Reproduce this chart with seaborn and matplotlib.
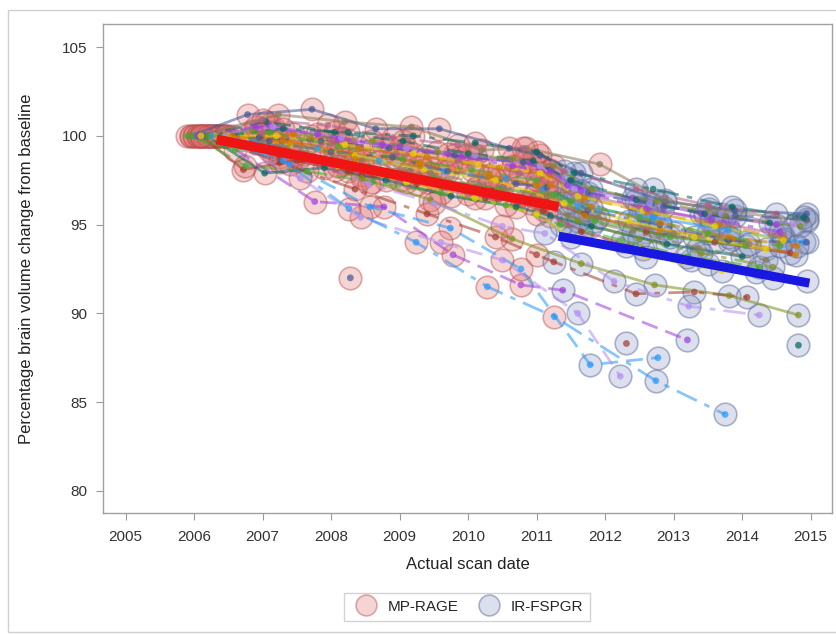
import pandas as pd
import matplotlib
matplotlib.use("Agg")
import matplotlib.pyplot as plt
import seaborn as sns
from matplotlib.patches import Rectangle
from matplotlib.lines import Line2D


# scan dates (decimal years) and % brain volume relative to baseline, one row per subject
scan_dates = [
    [2005.95, 2006.78, 2007.72, 2008.65, 2009.58, 2010.60, 2011.05, 2011.65, 2012.87, 2013.89, 2014.94],
    [2006.10, 2006.72, 2007.50, 2008.45, 2009.40, 2010.35, 2011.15, 2011.70, 2012.60, 2013.60, 2014.70],
    [2006.20, 2007.03, 2007.90, 2008.80, 2009.75, 2010.70, 2011.20, 2011.80, 2012.90, 2014.00],
    [2006.05, 2007.23, 2008.20, 2009.17, 2010.20, 2010.85, 2011.92, 2012.87, 2013.51, 2014.94],
    [2006.30, 2007.10, 2008.10, 2009.00, 2009.90, 2010.90, 2011.45, 2012.40, 2013.40, 2014.50],
    [2006.30, 2007.45, 2008.45, 2009.45, 2010.64, 2011.65, 2012.72, 2013.81, 2014.82],
    [2006.00, 2006.90, 2007.80, 2008.70, 2009.65, 2010.55, 2011.10, 2011.60, 2012.70, 2013.80, 2014.90],
    [2006.15, 2007.00, 2008.00, 2008.95, 2009.85, 2010.75, 2011.50, 2012.50, 2013.55, 2014.60],
    [2006.40, 2007.30, 2008.30, 2009.30, 2010.30, 2011.00, 2011.70, 2012.80, 2013.85, 2014.78],
    [2005.90, 2006.60, 2007.60, 2008.55, 2009.50, 2010.45, 2011.25, 2011.85, 2012.95, 2014.05],
    [2006.25, 2007.15, 2008.15, 2009.10, 2010.10, 2011.05, 2011.55, 2012.65, 2013.70, 2014.75],
    [2006.50, 2007.40, 2008.35, 2009.35, 2010.40, 2011.40, 2012.35, 2013.30, 2014.35],
    [2006.05, 2006.95, 2007.85, 2008.85, 2009.80, 2010.80, 2011.20, 2011.75, 2012.85, 2013.90, 2014.94],
    [2006.35, 2007.25, 2008.25, 2009.25, 2010.25, 2011.10, 2011.65, 2012.55, 2013.50, 2014.45],
    [2006.10, 2007.05, 2008.05, 2009.05, 2010.00, 2010.95, 2011.50, 2012.45, 2013.45, 2014.40],
    [2006.45, 2007.35, 2008.45, 2009.45, 2010.50, 2011.15, 2011.90, 2013.00, 2014.10],
    [2006.30, 2007.76, 2008.77, 2009.78, 2010.77, 2011.38, 2013.20],
    [2005.95, 2006.85, 2007.70, 2008.60, 2009.55, 2010.65, 2011.25, 2011.80, 2012.75, 2013.75, 2014.85],
    [2006.15, 2007.40, 2008.57, 2009.74, 2010.77, 2011.78, 2012.77],
    [2006.20, 2007.15, 2008.05, 2009.00, 2010.00, 2010.90, 2011.45, 2012.30, 2013.25, 2014.20],
    [2006.55, 2007.45, 2008.40, 2009.40, 2010.45, 2011.20, 2011.70, 2012.60, 2013.65, 2014.61],
    [2006.00, 2006.75, 2007.65, 2008.60, 2009.60, 2010.55, 2011.35, 2012.25, 2013.20, 2014.25],
    [2006.35, 2007.55, 2008.43, 2009.60, 2010.50, 2011.60, 2012.22],
    [2006.30, 2007.20, 2008.20, 2009.20, 2010.15, 2011.05, 2011.60, 2012.55, 2013.60, 2014.60],
    [2006.15, 2007.10, 2008.00, 2008.90, 2009.70, 2010.70, 2011.15, 2011.75, 2012.80, 2013.80, 2014.94],
    [2006.20, 2007.25, 2008.35, 2009.40, 2010.40, 2011.00, 2011.25, 2012.45, 2013.30, 2014.07],
    [2006.40, 2007.30, 2008.25, 2009.20, 2010.10, 2011.00, 2011.55, 2012.70, 2013.85, 2014.90],
    [2006.25, 2007.20, 2008.15, 2009.15, 2010.15, 2010.95, 2011.45, 2012.40, 2013.35, 2014.35],
    [2006.05, 2006.90, 2007.80, 2008.75, 2009.70, 2010.65, 2011.20, 2011.65, 2012.60, 2013.55, 2014.55],
    [2006.35, 2007.25, 2008.20, 2009.15, 2010.10, 2011.05, 2011.60, 2012.50, 2013.40, 2014.45],
    [2006.25, 2007.30, 2008.26, 2009.24, 2010.28, 2011.26, 2012.74, 2013.75],
    [2006.10, 2007.00, 2007.95, 2008.90, 2009.85, 2010.80, 2011.40, 2012.45, 2013.50, 2014.50],
    [2006.45, 2007.40, 2008.35, 2009.30, 2010.30, 2011.20, 2011.80, 2012.80, 2013.80, 2014.80],
    [2006.20, 2007.10, 2008.10, 2009.05, 2010.05, 2011.00, 2011.50, 2012.50, 2013.50, 2014.55],
    [2006.45, 2007.50, 2008.55, 2009.50, 2010.50, 2011.12, 2012.13, 2013.22, 2014.25],
    [2006.10, 2007.10, 2008.10, 2009.10, 2010.10, 2011.00, 2011.50, 2012.60, 2013.70, 2014.94],
    [2008.28],
    [2012.31],
    [2014.82],
]
pbvc = [
    [100.0, 101.2, 101.5, 100.4, 100.4, 99.3, 98.9, 97.9, 96.3, 95.8, 95.6],
    [100.0, 98.1, 98.6, 97.8, 97.4, 96.9, 96.3, 95.6, 94.6, 94.0, 93.4],
    [100.0, 97.9, 98.2, 97.5, 96.6, 96.0, 95.5, 94.9, 93.9, 93.2],
    [100.0, 101.2, 100.8, 100.5, 99.2, 99.3, 98.4, 96.4, 95.9, 95.2],
    [100.0, 100.6, 99.8, 99.4, 98.8, 98.5, 97.2, 96.5, 95.6, 95.0],
    [100.0, 98.9, 97.6, 96.4, 94.2, 92.8, 91.6, 91.0, 89.9],
    [100.0, 99.6, 99.3, 98.6, 98.0, 97.6, 97.0, 96.0, 95.4, 94.7, 94.0],
    [100.0, 100.2, 99.6, 99.0, 98.6, 97.9, 96.8, 96.0, 95.2, 94.4],
    [100.0, 99.8, 99.0, 98.5, 97.8, 97.2, 95.5, 94.7, 94.2, 93.3],
    [100.0, 99.2, 99.0, 98.3, 97.6, 97.0, 96.7, 95.2, 94.3, 93.8],
    [100.0, 100.5, 99.9, 99.3, 98.9, 98.3, 97.0, 96.2, 95.6, 95.0],
    [100.0, 99.5, 98.9, 98.1, 97.5, 96.2, 95.2, 94.3, 93.6],
    [100.0, 99.9, 99.7, 99.3, 98.9, 98.5, 98.1, 96.8, 96.0, 95.5, 95.3],
    [100.0, 98.8, 98.0, 97.3, 96.5, 95.8, 94.6, 93.6, 92.8, 92.0],
    [100.0, 100.8, 100.2, 99.7, 99.0, 98.6, 97.5, 96.4, 95.6, 95.1],
    [100.0, 99.3, 98.6, 97.9, 97.1, 96.6, 95.4, 94.5, 93.9],
    [100.0, 96.3, 96.0, 93.3, 91.6, 91.3, 88.5],
    [100.0, 100.3, 100.0, 99.7, 99.1, 98.7, 98.3, 97.0, 96.3, 95.5, 94.9],
    [100.0, 98.4, 96.0, 94.8, 92.5, 87.1, 87.5],
    [100.0, 99.0, 98.1, 97.5, 96.7, 96.2, 95.0, 93.8, 93.0, 92.3],
    [100.0, 100.1, 99.3, 98.8, 98.2, 97.8, 96.5, 95.7, 95.0, 94.2],
    [100.0, 98.3, 98.0, 97.4, 96.8, 96.1, 95.0, 94.1, 93.2, 92.6],
    [100.0, 97.6, 95.4, 94.0, 93.0, 90.0, 86.45],
    [100.0, 100.0, 99.5, 99.0, 98.4, 97.9, 96.6, 95.8, 94.9, 94.1],
    [100.0, 99.7, 99.1, 98.8, 98.0, 97.3, 97.1, 95.8, 95.0, 94.1, 94.0],
    [100.0, 98.5, 97.0, 95.6, 94.3, 93.3, 92.9, 91.1, 91.2, 90.9],
    [100.0, 100.4, 100.2, 100.0, 99.6, 99.1, 97.9, 97.0, 96.0, 95.4],
    [100.0, 99.4, 98.5, 98.0, 97.2, 96.6, 95.5, 94.6, 93.7, 93.0],
    [100.0, 100.5, 100.1, 99.5, 99.0, 98.3, 98.0, 96.9, 95.9, 95.3, 94.6],
    [100.0, 99.1, 98.4, 97.7, 97.0, 96.4, 95.2, 94.2, 93.4, 92.6],
    [100.0, 98.6, 95.9, 94.0, 91.5, 89.8, 86.2, 84.3],
    [100.0, 100.9, 100.6, 99.9, 99.5, 99.3, 98.0, 97.0, 96.1, 95.6],
    [100.0, 99.6, 98.7, 98.3, 97.7, 97.2, 96.0, 95.1, 94.3, 93.8],
    [100.0, 100.2, 99.4, 98.7, 98.1, 97.5, 96.3, 95.4, 94.5, 93.8],
    [100.0, 99.0, 97.3, 96.2, 94.9, 94.5, 91.8, 90.4, 89.9],
    [100.0, 99.2, 98.3, 97.4, 96.5, 95.6, 94.3, 93.2, 92.4, 91.8],
    [92.0],
    [88.3],
    [88.2],
]
# number of leading scans per subject done with MP-RAGE (the rest are IR-FSPGR)
n_mprage = [7, 7, 7, 7, 6, 5, 7, 6, 6, 7, 6, 5, 7, 6, 6, 6, 5, 7, 5, 6,
            6, 6, 5, 6, 7, 6, 6, 6, 7, 6, 6, 6, 6, 6, 5, 6, 1, 0, 0]

# fitted mean trends per sequence
fit_mp_x = [2006.33, 2011.32]
fit_mp_y = [99.8, 96.0]
fit_ir_x = [2011.32, 2014.98]
fit_ir_y = [94.35, 91.7]

rows = []
for i, (d, v, m) in enumerate(zip(scan_dates, pbvc, n_mprage)):
    for j, (x, y) in enumerate(zip(d, v)):
        rows.append({"subject": f"S{i + 1:02d}", "date": x, "pbvc": y,
                     "sequence": "MP-RAGE" if j < m else "IR-FSPGR"})
df = pd.DataFrame(rows)
subjects = [f"S{i + 1:02d}" for i in range(len(scan_dates))]

sas_colors = ["#445694", "#A23A2E", "#01665E", "#8A7A5A", "#9D3CDB", "#7F8E1F",
              "#2597FA", "#B26084", "#D17800", "#47A82A", "#B38EF3", "#E8D400"]
patterns = ["", (6, 3), (8, 3, 2, 3), (3, 2)]
pal = [sas_colors[i % 12] for i in range(len(subjects))]
dash_list = [patterns[(i // 12) % len(patterns)] for i in range(len(subjects))]

sns.set_theme(style="white")
plt.rcParams["font.family"] = ["Liberation Sans", "DejaVu Sans"]

fig = plt.figure(figsize=(8.37, 6.34), dpi=100)
ax = fig.add_axes([0.123, 0.191, 0.871, 0.771])

mp_face = (0.88, 0.45, 0.45, 0.30)
mp_edge = (0.72, 0.30, 0.30, 0.45)
ir_face = (0.55, 0.60, 0.78, 0.30)
ir_edge = (0.38, 0.43, 0.60, 0.50)

sns.scatterplot(data=df[df["sequence"] == "MP-RAGE"], x="date", y="pbvc", s=265,
                color=mp_face, edgecolor=mp_edge, linewidth=1.2, ax=ax, legend=False, zorder=2)
sns.scatterplot(data=df[df["sequence"] == "IR-FSPGR"], x="date", y="pbvc", s=265,
                color=ir_face, edgecolor=ir_edge, linewidth=1.2, ax=ax, legend=False, zorder=2)

sns.lineplot(data=df, x="date", y="pbvc", hue="subject", style="subject",
             hue_order=subjects, style_order=subjects, palette=pal, dashes=dash_list,
             estimator=None, lw=2.0, alpha=0.55, legend=False, ax=ax, zorder=3)
sns.scatterplot(data=df, x="date", y="pbvc", hue="subject", hue_order=subjects,
                palette=pal, s=24, linewidth=0, alpha=0.7, legend=False, ax=ax, zorder=4)

sns.lineplot(x=fit_mp_x, y=fit_mp_y, color="#F01515", lw=7, ax=ax, zorder=5,
             solid_capstyle="butt")
sns.lineplot(x=fit_ir_x, y=fit_ir_y, color="#1818E0", lw=6.5, ax=ax, zorder=5,
             solid_capstyle="butt")

ax.set_xlim(2004.67, 2015.31)
ax.set_ylim(78.75, 106.3)
ax.set_xticks(range(2005, 2016))
ax.set_yticks([80, 85, 90, 95, 100, 105])
ax.set_xlabel("Actual scan date", fontsize=12, color="#222222", labelpad=10)
ax.set_ylabel("Percentage brain volume change from baseline", fontsize=12,
              color="#222222", labelpad=20)
ax.tick_params(bottom=True, left=True, direction="out", length=5, width=0.8,
               color="#9A9A9A", labelsize=11, labelcolor="#333333")
ax.tick_params(axis="x", pad=7)
ax.tick_params(axis="y", pad=6)
for sp in ax.spines.values():
    sp.set_color("#A0A0A0")
    sp.set_linewidth(1.0)

handles = [
    Line2D([], [], marker="o", ls="none", markersize=15, markerfacecolor=mp_face,
           markeredgecolor=mp_edge, markeredgewidth=1.2),
    Line2D([], [], marker="o", ls="none", markersize=15, markerfacecolor=ir_face,
           markeredgecolor=ir_edge, markeredgewidth=1.2),
]
leg = fig.legend(handles, ["MP-RAGE", "IR-FSPGR"], loc="center", bbox_to_anchor=(0.558, 0.043),
                 ncol=2, frameon=True, fancybox=False, edgecolor="#C8C8C8", fontsize=11,
                 handletextpad=0.4, columnspacing=1.0, borderpad=0.45)
leg.get_frame().set_linewidth(1.0)

fig.patches.append(Rectangle((0.0096, 0.003), 0.99, 0.981, transform=fig.transFigure,
                             fill=False, edgecolor="#D0D0D0", lw=1.0))

fig.savefig("out.png", dpi=100)
